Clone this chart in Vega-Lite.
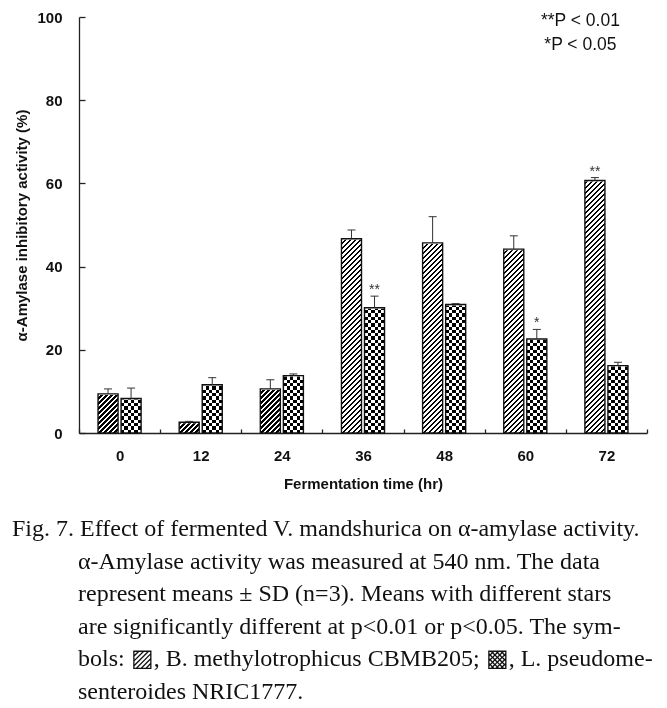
{
  "$schema": "https://vega.github.io/schema/vega-lite/v6.json",
  "width": 568,
  "height": 416,
  "autosize": {"type": "none"},
  "padding": {"left": 79, "top": 17, "right": 20, "bottom": 275},
  "background": "white",
  "config": {"view": {"stroke": null}, "axis": {"grid": false}},
  "title": {
    "text": [
      "Fig. 7. Effect of fermented V. mandshurica on α-amylase activity.",
      "\u200b\u00a0\u00a0\u00a0\u00a0\u00a0\u00a0\u00a0\u00a0\u00a0\u00a0\u00a0α-Amylase activity was measured at 540 nm. The data",
      "\u200b\u00a0\u00a0\u00a0\u00a0\u00a0\u00a0\u00a0\u00a0\u00a0\u00a0\u00a0represent means ± SD (n=3). Means with different stars",
      "\u200b\u00a0\u00a0\u00a0\u00a0\u00a0\u00a0\u00a0\u00a0\u00a0\u00a0\u00a0are significantly different at p<0.01 or p<0.05. The sym-",
      "\u200b\u00a0\u00a0\u00a0\u00a0\u00a0\u00a0\u00a0\u00a0\u00a0\u00a0\u00a0bols: ▨, B. methylotrophicus CBMB205; ▩, L. pseudome-",
      "\u200b\u00a0\u00a0\u00a0\u00a0\u00a0\u00a0\u00a0\u00a0\u00a0\u00a0\u00a0senteroides NRIC1777."
    ],
    "orient": "bottom",
    "anchor": "start",
    "frame": "group",
    "dx": -67,
    "offset": 26,
    "font": "Liberation Serif",
    "fontSize": 24,
    "fontWeight": "normal",
    "lineHeight": 32.5,
    "color": "#111"
  },
  "data": {
    "values": [
      {"time": 0, "strain": "B. methylotrophicus CBMB205", "value": 9.4, "err_top": 10.6, "sig": ""},
      {"time": 0, "strain": "L. pseudomesenteroides NRIC1777", "value": 8.3, "err_top": 10.8, "sig": ""},
      {"time": 12, "strain": "B. methylotrophicus CBMB205", "value": 2.6, "err_top": 2.8, "sig": ""},
      {"time": 12, "strain": "L. pseudomesenteroides NRIC1777", "value": 11.6, "err_top": 13.3, "sig": ""},
      {"time": 24, "strain": "B. methylotrophicus CBMB205", "value": 10.6, "err_top": 12.8, "sig": ""},
      {"time": 24, "strain": "L. pseudomesenteroides NRIC1777", "value": 13.8, "err_top": 14.2, "sig": ""},
      {"time": 36, "strain": "B. methylotrophicus CBMB205", "value": 46.7, "err_top": 48.8, "sig": ""},
      {"time": 36, "strain": "L. pseudomesenteroides NRIC1777", "value": 30.1, "err_top": 32.9, "sig": "**"},
      {"time": 48, "strain": "B. methylotrophicus CBMB205", "value": 45.7, "err_top": 52.0, "sig": ""},
      {"time": 48, "strain": "L. pseudomesenteroides NRIC1777", "value": 30.9, "err_top": 31.1, "sig": ""},
      {"time": 60, "strain": "B. methylotrophicus CBMB205", "value": 44.2, "err_top": 47.4, "sig": ""},
      {"time": 60, "strain": "L. pseudomesenteroides NRIC1777", "value": 22.6, "err_top": 24.9, "sig": "*"},
      {"time": 72, "strain": "B. methylotrophicus CBMB205", "value": 60.7, "err_top": 61.4, "sig": "**"},
      {"time": 72, "strain": "L. pseudomesenteroides NRIC1777", "value": 16.2, "err_top": 17.0, "sig": ""}
    ]
  },
  "encoding": {
    "x": {
      "field": "time",
      "type": "ordinal",
      "scale": {"paddingInner": 0, "paddingOuter": 0},
      "axis": {
        "title": "Fermentation time (hr)",
        "labelAngle": 0,
        "tickBand": "extent",
        "tickSize": -4,
        "labelPadding": 19,
        "labelFont": "Liberation Sans",
        "labelFontWeight": "bold",
        "labelFontSize": 15,
        "labelColor": "#111",
        "titleFont": "Liberation Sans",
        "titleFontWeight": "bold",
        "titleFontSize": 15,
        "titleColor": "#111",
        "titlePadding": 13,
        "domainColor": "#222",
        "tickColor": "#222",
        "domainWidth": 1.3,
        "tickWidth": 1.3
      }
    },
    "xOffset": {
      "field": "strain",
      "type": "nominal",
      "scale": {
        "domain": ["B. methylotrophicus CBMB205", "L. pseudomesenteroides NRIC1777"],
        "paddingInner": 0.1304,
        "paddingOuter": 0.826
      }
    },
    "y": {
      "field": "value",
      "type": "quantitative",
      "scale": {"domain": [0, 100], "nice": false},
      "axis": {
        "title": "α-Amylase inhibitory activity (%)",
        "values": [0, 20, 40, 60, 80, 100],
        "tickSize": -6,
        "labelPadding": 23,
        "labelFont": "Liberation Sans",
        "labelFontWeight": "bold",
        "labelFontSize": 15,
        "labelColor": "#111",
        "titleFont": "Liberation Sans",
        "titleFontWeight": "bold",
        "titleFontSize": 15,
        "titleColor": "#111",
        "titlePadding": 7,
        "domainColor": "#222",
        "tickColor": "#222",
        "domainWidth": 1.3,
        "tickWidth": 1.3
      }
    }
  },
  "layer": [
    {
      "transform": [{"filter": "datum.strain == 'B. methylotrophicus CBMB205'"}],
      "mark": {
        "type": "bar",
        "strokeWidth": 0,
        "fill": {
          "gradient": "linear", "x1": 0, "y1": 0, "x2": 0.08517, "y2": 1.1492,
          "stops": [
            {"offset":0,"color":"#000"},
            {"offset":0.008,"color":"#000"},{"offset":0.008,"color":"#fff"},
            {"offset":0.016,"color":"#fff"},{"offset":0.016,"color":"#000"},
            {"offset":0.024,"color":"#000"},{"offset":0.024,"color":"#fff"},
            {"offset":0.032,"color":"#fff"},{"offset":0.032,"color":"#000"},
            {"offset":0.04,"color":"#000"},{"offset":0.04,"color":"#fff"},
            {"offset":0.048,"color":"#fff"},{"offset":0.048,"color":"#000"},
            {"offset":0.056,"color":"#000"},{"offset":0.056,"color":"#fff"},
            {"offset":0.064,"color":"#fff"},{"offset":0.064,"color":"#000"},
            {"offset":0.072,"color":"#000"},{"offset":0.072,"color":"#fff"},
            {"offset":0.08,"color":"#fff"},{"offset":0.08,"color":"#000"},
            {"offset":0.088,"color":"#000"},{"offset":0.088,"color":"#fff"},
            {"offset":0.096,"color":"#fff"},{"offset":0.096,"color":"#000"},
            {"offset":0.104,"color":"#000"},{"offset":0.104,"color":"#fff"},
            {"offset":0.112,"color":"#fff"},{"offset":0.112,"color":"#000"},
            {"offset":0.12,"color":"#000"},{"offset":0.12,"color":"#fff"},
            {"offset":0.128,"color":"#fff"},{"offset":0.128,"color":"#000"},
            {"offset":0.136,"color":"#000"},{"offset":0.136,"color":"#fff"},
            {"offset":0.144,"color":"#fff"},{"offset":0.144,"color":"#000"},
            {"offset":0.152,"color":"#000"},{"offset":0.152,"color":"#fff"},
            {"offset":0.16,"color":"#fff"},{"offset":0.16,"color":"#000"},
            {"offset":0.168,"color":"#000"},{"offset":0.168,"color":"#fff"},
            {"offset":0.176,"color":"#fff"},{"offset":0.176,"color":"#000"},
            {"offset":0.184,"color":"#000"},{"offset":0.184,"color":"#fff"},
            {"offset":0.192,"color":"#fff"},{"offset":0.192,"color":"#000"},
            {"offset":0.2,"color":"#000"},{"offset":0.2,"color":"#fff"},
            {"offset":0.208,"color":"#fff"},{"offset":0.208,"color":"#000"},
            {"offset":0.216,"color":"#000"},{"offset":0.216,"color":"#fff"},
            {"offset":0.224,"color":"#fff"},{"offset":0.224,"color":"#000"},
            {"offset":0.232,"color":"#000"},{"offset":0.232,"color":"#fff"},
            {"offset":0.24,"color":"#fff"},{"offset":0.24,"color":"#000"},
            {"offset":0.248,"color":"#000"},{"offset":0.248,"color":"#fff"},
            {"offset":0.256,"color":"#fff"},{"offset":0.256,"color":"#000"},
            {"offset":0.264,"color":"#000"},{"offset":0.264,"color":"#fff"},
            {"offset":0.272,"color":"#fff"},{"offset":0.272,"color":"#000"},
            {"offset":0.28,"color":"#000"},{"offset":0.28,"color":"#fff"},
            {"offset":0.288,"color":"#fff"},{"offset":0.288,"color":"#000"},
            {"offset":0.296,"color":"#000"},{"offset":0.296,"color":"#fff"},
            {"offset":0.304,"color":"#fff"},{"offset":0.304,"color":"#000"},
            {"offset":0.312,"color":"#000"},{"offset":0.312,"color":"#fff"},
            {"offset":0.32,"color":"#fff"},{"offset":0.32,"color":"#000"},
            {"offset":0.328,"color":"#000"},{"offset":0.328,"color":"#fff"},
            {"offset":0.336,"color":"#fff"},{"offset":0.336,"color":"#000"},
            {"offset":0.344,"color":"#000"},{"offset":0.344,"color":"#fff"},
            {"offset":0.352,"color":"#fff"},{"offset":0.352,"color":"#000"},
            {"offset":0.36,"color":"#000"},{"offset":0.36,"color":"#fff"},
            {"offset":0.368,"color":"#fff"},{"offset":0.368,"color":"#000"},
            {"offset":0.376,"color":"#000"},{"offset":0.376,"color":"#fff"},
            {"offset":0.384,"color":"#fff"},{"offset":0.384,"color":"#000"},
            {"offset":0.392,"color":"#000"},{"offset":0.392,"color":"#fff"},
            {"offset":0.4,"color":"#fff"},{"offset":0.4,"color":"#000"},
            {"offset":0.408,"color":"#000"},{"offset":0.408,"color":"#fff"},
            {"offset":0.416,"color":"#fff"},{"offset":0.416,"color":"#000"},
            {"offset":0.424,"color":"#000"},{"offset":0.424,"color":"#fff"},
            {"offset":0.432,"color":"#fff"},{"offset":0.432,"color":"#000"},
            {"offset":0.44,"color":"#000"},{"offset":0.44,"color":"#fff"},
            {"offset":0.448,"color":"#fff"},{"offset":0.448,"color":"#000"},
            {"offset":0.456,"color":"#000"},{"offset":0.456,"color":"#fff"},
            {"offset":0.464,"color":"#fff"},{"offset":0.464,"color":"#000"},
            {"offset":0.472,"color":"#000"},{"offset":0.472,"color":"#fff"},
            {"offset":0.48,"color":"#fff"},{"offset":0.48,"color":"#000"},
            {"offset":0.488,"color":"#000"},{"offset":0.488,"color":"#fff"},
            {"offset":0.496,"color":"#fff"},{"offset":0.496,"color":"#000"},
            {"offset":0.504,"color":"#000"},{"offset":0.504,"color":"#fff"},
            {"offset":0.512,"color":"#fff"},{"offset":0.512,"color":"#000"},
            {"offset":0.52,"color":"#000"},{"offset":0.52,"color":"#fff"},
            {"offset":0.528,"color":"#fff"},{"offset":0.528,"color":"#000"},
            {"offset":0.536,"color":"#000"},{"offset":0.536,"color":"#fff"},
            {"offset":0.544,"color":"#fff"},{"offset":0.544,"color":"#000"},
            {"offset":0.552,"color":"#000"},{"offset":0.552,"color":"#fff"},
            {"offset":0.56,"color":"#fff"},{"offset":0.56,"color":"#000"},
            {"offset":0.568,"color":"#000"},{"offset":0.568,"color":"#fff"},
            {"offset":0.576,"color":"#fff"},{"offset":0.576,"color":"#000"},
            {"offset":0.584,"color":"#000"},{"offset":0.584,"color":"#fff"},
            {"offset":0.592,"color":"#fff"},{"offset":0.592,"color":"#000"},
            {"offset":0.6,"color":"#000"},{"offset":0.6,"color":"#fff"},
            {"offset":0.608,"color":"#fff"},{"offset":0.608,"color":"#000"},
            {"offset":0.616,"color":"#000"},{"offset":0.616,"color":"#fff"},
            {"offset":0.624,"color":"#fff"},{"offset":0.624,"color":"#000"},
            {"offset":0.632,"color":"#000"},{"offset":0.632,"color":"#fff"},
            {"offset":0.64,"color":"#fff"},{"offset":0.64,"color":"#000"},
            {"offset":0.648,"color":"#000"},{"offset":0.648,"color":"#fff"},
            {"offset":0.656,"color":"#fff"},{"offset":0.656,"color":"#000"},
            {"offset":0.664,"color":"#000"},{"offset":0.664,"color":"#fff"},
            {"offset":0.672,"color":"#fff"},{"offset":0.672,"color":"#000"},
            {"offset":0.68,"color":"#000"},{"offset":0.68,"color":"#fff"},
            {"offset":0.688,"color":"#fff"},{"offset":0.688,"color":"#000"},
            {"offset":0.696,"color":"#000"},{"offset":0.696,"color":"#fff"},
            {"offset":0.704,"color":"#fff"},{"offset":0.704,"color":"#000"},
            {"offset":0.712,"color":"#000"},{"offset":0.712,"color":"#fff"},
            {"offset":0.72,"color":"#fff"},{"offset":0.72,"color":"#000"},
            {"offset":0.728,"color":"#000"},{"offset":0.728,"color":"#fff"},
            {"offset":0.736,"color":"#fff"},{"offset":0.736,"color":"#000"},
            {"offset":0.744,"color":"#000"},{"offset":0.744,"color":"#fff"},
            {"offset":0.752,"color":"#fff"},{"offset":0.752,"color":"#000"},
            {"offset":0.76,"color":"#000"},{"offset":0.76,"color":"#fff"},
            {"offset":0.768,"color":"#fff"},{"offset":0.768,"color":"#000"},
            {"offset":0.776,"color":"#000"},{"offset":0.776,"color":"#fff"},
            {"offset":0.784,"color":"#fff"},{"offset":0.784,"color":"#000"},
            {"offset":0.792,"color":"#000"},{"offset":0.792,"color":"#fff"},
            {"offset":0.8,"color":"#fff"},{"offset":0.8,"color":"#000"},
            {"offset":0.808,"color":"#000"},{"offset":0.808,"color":"#fff"},
            {"offset":0.816,"color":"#fff"},{"offset":0.816,"color":"#000"},
            {"offset":0.824,"color":"#000"},{"offset":0.824,"color":"#fff"},
            {"offset":0.832,"color":"#fff"},{"offset":0.832,"color":"#000"},
            {"offset":0.84,"color":"#000"},{"offset":0.84,"color":"#fff"},
            {"offset":0.848,"color":"#fff"},{"offset":0.848,"color":"#000"},
            {"offset":0.856,"color":"#000"},{"offset":0.856,"color":"#fff"},
            {"offset":0.864,"color":"#fff"},{"offset":0.864,"color":"#000"},
            {"offset":0.872,"color":"#000"},{"offset":0.872,"color":"#fff"},
            {"offset":0.88,"color":"#fff"},{"offset":0.88,"color":"#000"},
            {"offset":0.888,"color":"#000"},{"offset":0.888,"color":"#fff"},
            {"offset":0.896,"color":"#fff"},{"offset":0.896,"color":"#000"},
            {"offset":0.904,"color":"#000"},{"offset":0.904,"color":"#fff"},
            {"offset":0.912,"color":"#fff"},{"offset":0.912,"color":"#000"},
            {"offset":0.92,"color":"#000"},{"offset":0.92,"color":"#fff"},
            {"offset":0.928,"color":"#fff"},{"offset":0.928,"color":"#000"},
            {"offset":0.936,"color":"#000"},{"offset":0.936,"color":"#fff"},
            {"offset":0.944,"color":"#fff"},{"offset":0.944,"color":"#000"}
          ]
        }
      },
      "encoding": {
        "y": {"datum": 65, "type": "quantitative"},
        "y2": {"datum": 0}
      }
    },
    {
      "transform": [{"filter": "datum.strain == 'L. pseudomesenteroides NRIC1777'"}],
      "mark": {
        "type": "bar",
        "strokeWidth": 0,
        "fill": {
          "gradient": "linear", "x1": 0, "y1": 0, "x2": 1, "y2": 0,
          "stops": [
            {"offset":0,"color":"#000"},
            {"offset":0.1667,"color":"#000"},{"offset":0.1667,"color":"#fff"},
            {"offset":0.3333,"color":"#fff"},{"offset":0.3333,"color":"#000"},
            {"offset":0.5,"color":"#000"},{"offset":0.5,"color":"#fff"},
            {"offset":0.6667,"color":"#fff"},{"offset":0.6667,"color":"#000"},
            {"offset":0.8333,"color":"#000"},{"offset":0.8333,"color":"#fff"},
            {"offset":1,"color":"#fff"}
          ]
        }
      },
      "encoding": {
        "y": {"datum": 32, "type": "quantitative"},
        "y2": {"datum": 0}
      }
    },
    {
      "transform": [{"filter": "datum.strain == 'L. pseudomesenteroides NRIC1777'"}],
      "mark": {
        "type": "bar",
        "strokeWidth": 0,
        "blend": "difference",
        "fill": {
          "gradient": "linear", "x1": 0, "y1": 0, "x2": 0, "y2": 1,
          "stops": [
            {"offset":0,"color":"#fff"},
            {"offset":0.025,"color":"#fff"},{"offset":0.025,"color":"#000"},
            {"offset":0.05,"color":"#000"},{"offset":0.05,"color":"#fff"},
            {"offset":0.075,"color":"#fff"},{"offset":0.075,"color":"#000"},
            {"offset":0.1,"color":"#000"},{"offset":0.1,"color":"#fff"},
            {"offset":0.125,"color":"#fff"},{"offset":0.125,"color":"#000"},
            {"offset":0.15,"color":"#000"},{"offset":0.15,"color":"#fff"},
            {"offset":0.175,"color":"#fff"},{"offset":0.175,"color":"#000"},
            {"offset":0.2,"color":"#000"},{"offset":0.2,"color":"#fff"},
            {"offset":0.225,"color":"#fff"},{"offset":0.225,"color":"#000"},
            {"offset":0.25,"color":"#000"},{"offset":0.25,"color":"#fff"},
            {"offset":0.275,"color":"#fff"},{"offset":0.275,"color":"#000"},
            {"offset":0.3,"color":"#000"},{"offset":0.3,"color":"#fff"},
            {"offset":0.325,"color":"#fff"},{"offset":0.325,"color":"#000"},
            {"offset":0.35,"color":"#000"},{"offset":0.35,"color":"#fff"},
            {"offset":0.375,"color":"#fff"},{"offset":0.375,"color":"#000"},
            {"offset":0.4,"color":"#000"},{"offset":0.4,"color":"#fff"},
            {"offset":0.425,"color":"#fff"},{"offset":0.425,"color":"#000"},
            {"offset":0.45,"color":"#000"},{"offset":0.45,"color":"#fff"},
            {"offset":0.475,"color":"#fff"},{"offset":0.475,"color":"#000"},
            {"offset":0.5,"color":"#000"},{"offset":0.5,"color":"#fff"},
            {"offset":0.525,"color":"#fff"},{"offset":0.525,"color":"#000"},
            {"offset":0.55,"color":"#000"},{"offset":0.55,"color":"#fff"},
            {"offset":0.575,"color":"#fff"},{"offset":0.575,"color":"#000"},
            {"offset":0.6,"color":"#000"},{"offset":0.6,"color":"#fff"},
            {"offset":0.625,"color":"#fff"},{"offset":0.625,"color":"#000"},
            {"offset":0.65,"color":"#000"},{"offset":0.65,"color":"#fff"},
            {"offset":0.675,"color":"#fff"},{"offset":0.675,"color":"#000"},
            {"offset":0.7,"color":"#000"},{"offset":0.7,"color":"#fff"},
            {"offset":0.725,"color":"#fff"},{"offset":0.725,"color":"#000"},
            {"offset":0.75,"color":"#000"},{"offset":0.75,"color":"#fff"},
            {"offset":0.775,"color":"#fff"},{"offset":0.775,"color":"#000"},
            {"offset":0.8,"color":"#000"},{"offset":0.8,"color":"#fff"},
            {"offset":0.825,"color":"#fff"},{"offset":0.825,"color":"#000"},
            {"offset":0.85,"color":"#000"},{"offset":0.85,"color":"#fff"},
            {"offset":0.875,"color":"#fff"},{"offset":0.875,"color":"#000"},
            {"offset":0.9,"color":"#000"},{"offset":0.9,"color":"#fff"},
            {"offset":0.925,"color":"#fff"},{"offset":0.925,"color":"#000"},
            {"offset":0.95,"color":"#000"},{"offset":0.95,"color":"#fff"},
            {"offset":0.975,"color":"#fff"},{"offset":0.975,"color":"#000"},
            {"offset":1,"color":"#000"}
          ]
        }
      },
      "encoding": {
        "y": {"datum": 32, "type": "quantitative"},
        "y2": {"datum": 0}
      }
    },
    {
      "mark": {"type": "bar", "fill": "#fff", "stroke": "#fff", "strokeWidth": 2},
      "encoding": {"y2": {"datum": 65}}
    },
    {
      "mark": {"type": "bar", "fill": "transparent", "stroke": "#111", "strokeWidth": 1.4},
      "encoding": {}
    },
    {
      "mark": {"type": "rule", "stroke": "#333", "strokeWidth": 1},
      "encoding": {"y2": {"field": "err_top"}}
    },
    {
      "mark": {"type": "tick", "color": "#333", "size": 8, "thickness": 1, "opacity": 1},
      "encoding": {"y": {"field": "err_top", "type": "quantitative"}}
    },
    {
      "mark": {"type": "text", "font": "Liberation Sans", "fontSize": 14, "color": "#333", "baseline": "alphabetic", "dy": -2},
      "encoding": {
        "y": {"field": "err_top", "type": "quantitative"},
        "text": {"field": "sig"}
      }
    },
    {
      "transform": [{"filter": "datum.time == 72 && datum.strain == 'B. methylotrophicus CBMB205'"}],
      "mark": {"type": "text", "font": "Liberation Sans", "fontSize": 17.5, "color": "#111", "align": "center", "baseline": "top", "dx": -14.5, "dy": -5, "lineHeight": 24},
      "encoding": {
        "y": {"datum": 100, "type": "quantitative"},
        "text": {"value": ["**P < 0.01", "*P < 0.05"]}
      }
    }
  ]
}
